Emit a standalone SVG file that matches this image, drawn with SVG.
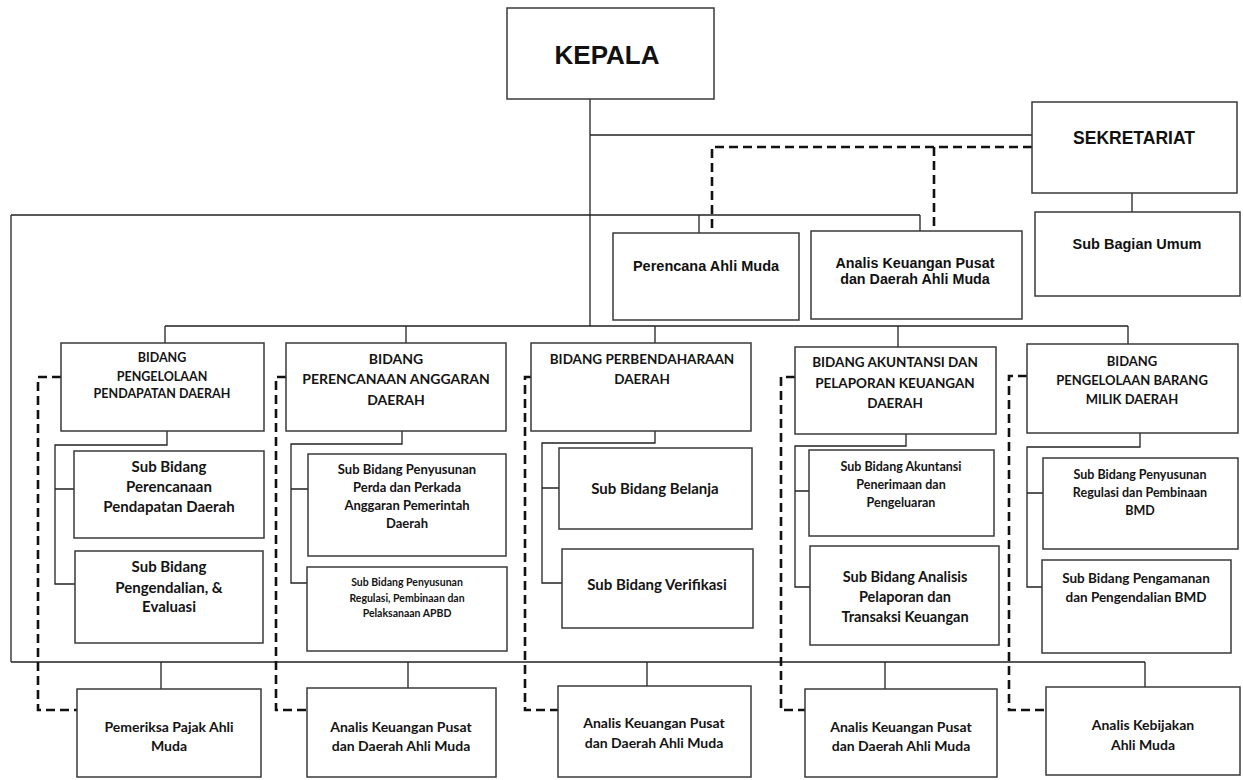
<svg xmlns="http://www.w3.org/2000/svg" width="1243" height="780" viewBox="0 0 1243 780">
<style>
.box{fill:#fff;stroke:#3a3a3a;stroke-width:1.5}
.ln{fill:none;stroke:#222;stroke-width:1.3}
.dash{fill:none;stroke:#111;stroke-width:2.6;stroke-dasharray:9 5}
.a{font-family:"Liberation Sans",Arial,sans-serif;font-weight:bold;fill:#111;text-anchor:middle}
.c{font-family:Lato,"Open Sans",sans-serif;font-weight:bold;fill:#141414;text-anchor:middle}
</style>
<g id="connectors">
<path class="ln" d="M590 99V326M590 135H1032M11 215H920M11 215V662M699 215V233M920 215V231M1132 193V212"/>
<path class="ln" d="M165 326H1128M165 326V343M406 326V343M655 326V343M898 326V347M1128 326V344"/>
<path class="ln" d="M167 431V445H55V584H75M55 489H74"/>
<path class="ln" d="M402 431V444H291V583H307M291 489H308"/>
<path class="ln" d="M655 431V443H542V583H562M542 488H559"/>
<path class="ln" d="M906 434V446H795V587H810M795 491H809"/>
<path class="ln" d="M1140 433V447H1027V587H1042M1027 493H1043"/>
<path class="ln" d="M11 662H1145M161 662V689M408 662V688M647 662V686M885 662V689M1145 662V687"/>
<path class="dash" d="M1032 147H712V233M934 147V231"/>
<path class="dash" d="M61 377H38V710H77"/>
<path class="dash" d="M286 377H276V710H307"/>
<path class="dash" d="M531 377H525V710H558"/>
<path class="dash" d="M795 377H781V710H805"/>
<path class="dash" d="M1027 376H1009V710H1046"/>
</g>
<g id="kepala"><rect class="box" x="507" y="8" width="207" height="91"/><text class="a" x="607" y="64" font-size="26">KEPALA</text></g>
<g id="sekretariat"><rect class="box" x="1032" y="102" width="205" height="91"/><text class="a" x="1134" y="144" font-size="17.5">SEKRETARIAT</text></g>
<g id="sub-bagian-umum"><rect class="box" x="1035" y="212" width="205" height="84"/><text class="a" x="1137" y="249" font-size="14.5">Sub Bagian Umum</text></g>
<g id="perencana"><rect class="box" x="613" y="233" width="186" height="87"/><text class="a" x="706" y="271" font-size="14.5">Perencana Ahli Muda</text></g>
<g id="analis-top"><rect class="box" x="811" y="231" width="211" height="88"/><text class="a" x="915" y="268" font-size="14.3">Analis Keuangan Pusat</text><text class="a" x="915" y="284" font-size="14.3">dan Daerah Ahli Muda</text></g>

<g id="bidang1"><rect class="box" x="61" y="343" width="203" height="88"/>
<text class="c" font-size="12.5"><tspan x="162" y="362">BIDANG</tspan><tspan x="162" y="381">PENGELOLAAN</tspan><tspan x="162" y="398">PENDAPATAN DAERAH</tspan></text></g>
<g id="bidang2"><rect class="box" x="286" y="343" width="220" height="88"/>
<text class="c" font-size="14"><tspan x="396" y="364">BIDANG</tspan><tspan x="396" y="384">PERENCANAAN ANGGARAN</tspan><tspan x="396" y="405">DAERAH</tspan></text></g>
<g id="bidang3"><rect class="box" x="531" y="343" width="220" height="88"/>
<text class="c" font-size="13.5"><tspan x="642" y="364">BIDANG PERBENDAHARAAN</tspan><tspan x="642" y="384">DAERAH</tspan></text></g>
<g id="bidang4"><rect class="box" x="795" y="347" width="201" height="87"/>
<text class="c" font-size="13.5"><tspan x="895" y="367">BIDANG AKUNTANSI DAN</tspan><tspan x="895" y="388">PELAPORAN KEUANGAN</tspan><tspan x="895" y="408">DAERAH</tspan></text></g>
<g id="bidang5"><rect class="box" x="1027" y="344" width="211" height="89"/>
<text class="c" font-size="13"><tspan x="1132" y="366">BIDANG</tspan><tspan x="1132" y="385">PENGELOLAAN BARANG</tspan><tspan x="1132" y="404">MILIK DAERAH</tspan></text></g>

<g id="sub1a"><rect class="box" x="74" y="451" width="190" height="87"/>
<text class="c" font-size="15"><tspan x="169" y="472">Sub Bidang</tspan><tspan x="169" y="492">Perencanaan</tspan><tspan x="169" y="512">Pendapatan Daerah</tspan></text></g>
<g id="sub1b"><rect class="box" x="75" y="551" width="188" height="92"/>
<text class="c" font-size="15"><tspan x="169" y="572">Sub Bidang</tspan><tspan x="169" y="593">Pengendalian, &amp;</tspan><tspan x="169" y="612">Evaluasi</tspan></text></g>
<g id="sub2a"><rect class="box" x="308" y="454" width="198" height="102"/>
<text class="c" font-size="13"><tspan x="407" y="474">Sub Bidang Penyusunan</tspan><tspan x="407" y="492">Perda dan Perkada</tspan><tspan x="407" y="510">Anggaran Pemerintah</tspan><tspan x="407" y="528">Daerah</tspan></text></g>
<g id="sub2b"><rect class="box" x="307" y="567" width="200" height="84"/>
<text class="c" font-size="10.5"><tspan x="407" y="586">Sub Bidang Penyusunan</tspan><tspan x="407" y="602">Regulasi, Pembinaan dan</tspan><tspan x="407" y="617">Pelaksanaan APBD</tspan></text></g>
<g id="sub3a"><rect class="box" x="559" y="448" width="193" height="81"/>
<text class="c" font-size="15" x="655" y="494">Sub Bidang Belanja</text></g>
<g id="sub3b"><rect class="box" x="562" y="549" width="191" height="79"/>
<text class="c" font-size="15" x="657" y="590">Sub Bidang Verifikasi</text></g>
<g id="sub4a"><rect class="box" x="809" y="450" width="185" height="86"/>
<text class="c" font-size="12.5"><tspan x="901" y="471">Sub Bidang Akuntansi</tspan><tspan x="901" y="489">Penerimaan dan</tspan><tspan x="901" y="507">Pengeluaran</tspan></text></g>
<g id="sub4b"><rect class="box" x="810" y="546" width="189" height="99"/>
<text class="c" font-size="14.5"><tspan x="905" y="582">Sub Bidang Analisis</tspan><tspan x="905" y="602">Pelaporan dan</tspan><tspan x="905" y="622">Transaksi Keuangan</tspan></text></g>
<g id="sub5a"><rect class="box" x="1043" y="458" width="195" height="91"/>
<text class="c" font-size="12.5"><tspan x="1140" y="479">Sub Bidang Penyusunan</tspan><tspan x="1140" y="497">Regulasi dan Pembinaan</tspan><tspan x="1140" y="515">BMD</tspan></text></g>
<g id="sub5b"><rect class="box" x="1042" y="560" width="189" height="93"/>
<text class="c" font-size="13.5"><tspan x="1136" y="583">Sub Bidang Pengamanan</tspan><tspan x="1136" y="602">dan Pengendalian BMD</tspan></text></g>

<g id="fung1"><rect class="box" x="77" y="689" width="184" height="88"/>
<text class="c" font-size="14"><tspan x="169" y="732">Pemeriksa Pajak Ahli</tspan><tspan x="169" y="751">Muda</tspan></text></g>
<g id="fung2"><rect class="box" x="307" y="688" width="189" height="89"/>
<text class="c" font-size="14"><tspan x="401" y="732">Analis Keuangan Pusat</tspan><tspan x="401" y="751">dan Daerah Ahli Muda</tspan></text></g>
<g id="fung3"><rect class="box" x="558" y="686" width="193" height="91"/>
<text class="c" font-size="14"><tspan x="654" y="728">Analis Keuangan Pusat</tspan><tspan x="654" y="748">dan Daerah Ahli Muda</tspan></text></g>
<g id="fung4"><rect class="box" x="805" y="689" width="192" height="88"/>
<text class="c" font-size="14"><tspan x="901" y="732">Analis Keuangan Pusat</tspan><tspan x="901" y="751">dan Daerah Ahli Muda</tspan></text></g>
<g id="fung5"><rect class="box" x="1046" y="687" width="194" height="88"/>
<text class="c" font-size="14"><tspan x="1143" y="730">Analis Kebijakan</tspan><tspan x="1143" y="750">Ahli Muda</tspan></text></g>
</svg>
